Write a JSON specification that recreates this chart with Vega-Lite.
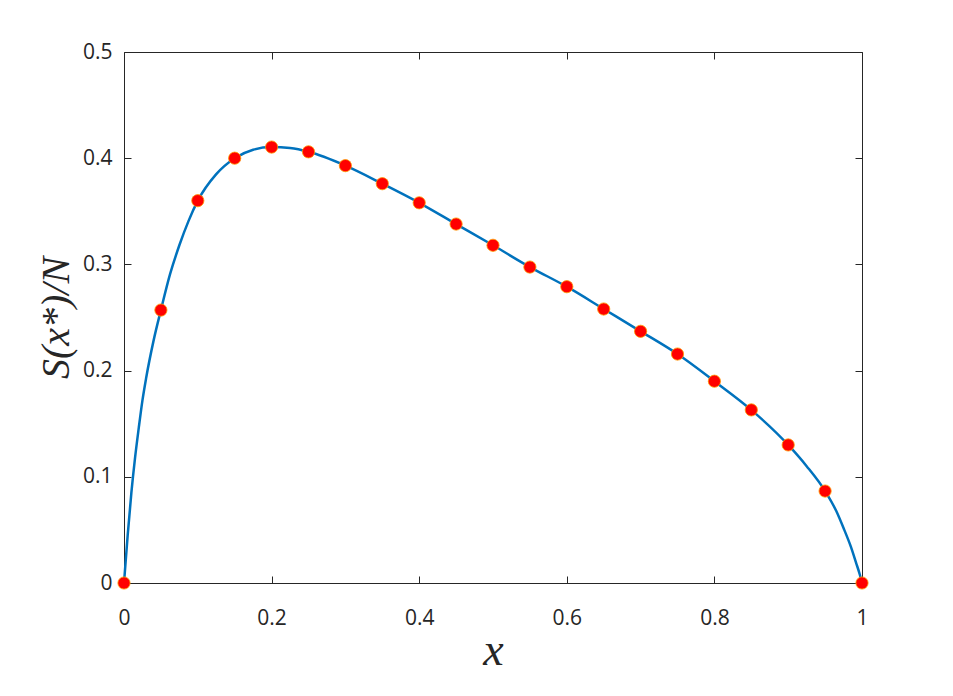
{
  "$schema": "https://vega.github.io/schema/vega-lite/v6.json",
  "autosize": {"type": "none"},
  "padding": {"left": 124, "top": 52, "right": 91, "bottom": 113},
  "width": 738,
  "height": 531,
  "background": "white",
  "config": {
    "view": {"stroke": null},
    "axis": {
      "grid": false,
      "domainColor": "#262626",
      "domainWidth": 1,
      "tickColor": "#262626",
      "tickWidth": 1,
      "tickSize": -7,
      "labelFlush": false,
      "labelOverlap": false,
      "labelFont": "Open Sans",
      "labelFontSize": 21,
      "labelColor": "#262626",
      "titleColor": "#262626",
      "titleFont": "Liberation Serif",
      "titleFontStyle": "italic",
      "titleFontWeight": "normal"
    }
  },
  "datasets": {
    "curve": [
      {"x": 0, "s": 0},
      {"x": 0.005, "s": 0.045},
      {"x": 0.01, "s": 0.085},
      {"x": 0.015, "s": 0.118},
      {"x": 0.02, "s": 0.146},
      {"x": 0.025, "s": 0.172},
      {"x": 0.03, "s": 0.193},
      {"x": 0.04, "s": 0.228},
      {"x": 0.05, "s": 0.257},
      {"x": 0.0625, "s": 0.291},
      {"x": 0.075, "s": 0.318},
      {"x": 0.0875, "s": 0.341},
      {"x": 0.1, "s": 0.36},
      {"x": 0.125, "s": 0.385},
      {"x": 0.15, "s": 0.4},
      {"x": 0.175, "s": 0.408},
      {"x": 0.2, "s": 0.4105},
      {"x": 0.225, "s": 0.4095},
      {"x": 0.25, "s": 0.406},
      {"x": 0.3, "s": 0.393},
      {"x": 0.35, "s": 0.376},
      {"x": 0.4, "s": 0.358},
      {"x": 0.45, "s": 0.338},
      {"x": 0.5, "s": 0.318},
      {"x": 0.55, "s": 0.2975},
      {"x": 0.6, "s": 0.279},
      {"x": 0.65, "s": 0.258},
      {"x": 0.7, "s": 0.237},
      {"x": 0.75, "s": 0.2156},
      {"x": 0.8, "s": 0.19},
      {"x": 0.85, "s": 0.163},
      {"x": 0.9, "s": 0.13},
      {"x": 0.925, "s": 0.11},
      {"x": 0.95, "s": 0.0866},
      {"x": 0.965, "s": 0.068},
      {"x": 0.976, "s": 0.05},
      {"x": 0.985, "s": 0.034},
      {"x": 0.992, "s": 0.019},
      {"x": 0.997, "s": 0.008},
      {"x": 1, "s": 0}
    ],
    "markers": [
      {"x": 0, "s": 0},
      {"x": 0.05, "s": 0.257},
      {"x": 0.1, "s": 0.36},
      {"x": 0.15, "s": 0.4},
      {"x": 0.2, "s": 0.4105},
      {"x": 0.25, "s": 0.406},
      {"x": 0.3, "s": 0.393},
      {"x": 0.35, "s": 0.376},
      {"x": 0.4, "s": 0.358},
      {"x": 0.45, "s": 0.338},
      {"x": 0.5, "s": 0.318},
      {"x": 0.55, "s": 0.2975},
      {"x": 0.6, "s": 0.279},
      {"x": 0.65, "s": 0.258},
      {"x": 0.7, "s": 0.237},
      {"x": 0.75, "s": 0.2156},
      {"x": 0.8, "s": 0.19},
      {"x": 0.85, "s": 0.163},
      {"x": 0.9, "s": 0.13},
      {"x": 0.95, "s": 0.0866},
      {"x": 1, "s": 0}
    ]
  },
  "layer": [
    {
      "data": {"name": "curve"},
      "mark": {"type": "line", "color": "#0072BD", "strokeWidth": 2.5, "interpolate": "monotone", "clip": false},
      "encoding": {
        "x": {"field": "x", "type": "quantitative",
          "scale": {"domain": [0, 1], "nice": false, "zero": false},
          "axis": {"orient": "bottom", "values": [0, 0.2, 0.4, 0.6, 0.8, 1], "format": "~g",
            "labelPadding": 31, "title": "x", "titleFontSize": 46, "titlePadding": 0}},
        "y": {"field": "s", "type": "quantitative",
          "scale": {"domain": [0, 0.5], "nice": false, "zero": false},
          "axis": {"orient": "left", "values": [0, 0.1, 0.2, 0.3, 0.4, 0.5], "format": "~g",
            "labelPadding": 19, "title": "S(x*)/N", "titleFontSize": 40, "titlePadding": 6}}
      }
    },
    {
      "data": {"name": "markers"},
      "mark": {"type": "point", "shape": "circle", "filled": true, "fill": "#FF0000", "stroke": "#FF9A00", "strokeWidth": 0.8, "size": 150, "opacity": 1, "clip": false},
      "encoding": {
        "x": {"field": "x", "type": "quantitative",
          "axis": {"orient": "top", "values": [0, 0.2, 0.4, 0.6, 0.8, 1], "labels": false, "title": null}},
        "y": {"field": "s", "type": "quantitative",
          "axis": {"orient": "right", "values": [0, 0.1, 0.2, 0.3, 0.4, 0.5], "labels": false, "title": null}}
      }
    }
  ],
  "resolve": {"axis": {"x": "independent", "y": "independent"}}
}
